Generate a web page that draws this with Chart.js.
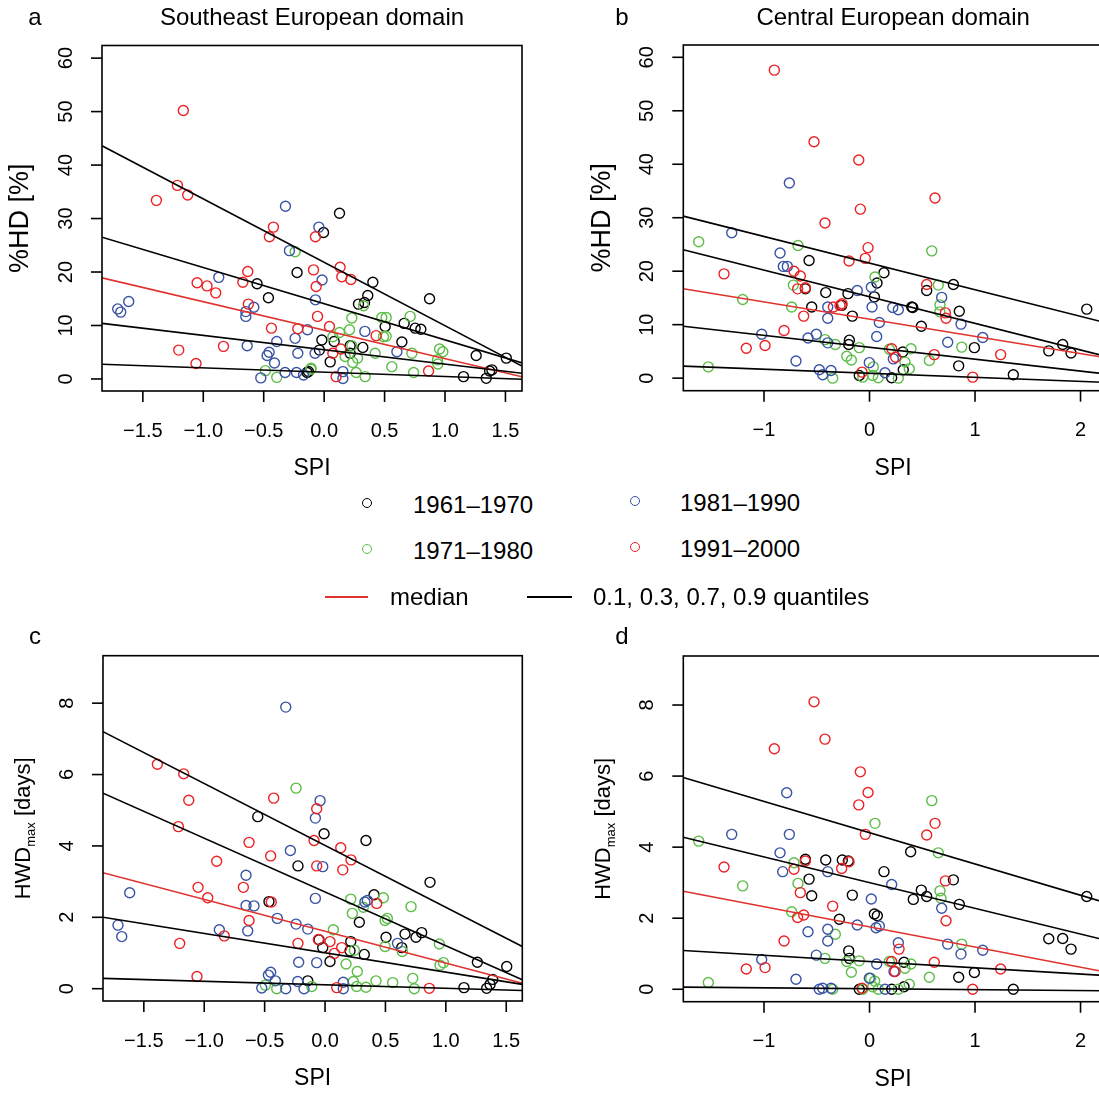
<!DOCTYPE html>
<html>
<head>
<meta charset="utf-8">
<script src="https://cdn.jsdelivr.net/npm/chart.js@4"></script>
<style>
html, body { margin: 0; padding: 0; overflow: hidden; background: #fff; }
body { width: 1099px; height: 1095px; position: relative; font-family: "Liberation Sans", Arial, Helvetica, sans-serif; }
canvas { position: absolute; }
.sym { position: absolute; width: 8px; height: 8px; border: 1.4px solid; border-radius: 50%; }
.lt { position: absolute; font-size: 24px; line-height: 28px; color: #000; white-space: nowrap; }
.ln { position: absolute; height: 1.6px; }
</style>
</head>
<body>
<canvas id="pa" width="560" height="480" style="left:0;top:0"></canvas>
<canvas id="pb" width="560" height="480" style="left:560px;top:0"></canvas>
<canvas id="pc" width="560" height="485" style="left:0;top:610px"></canvas>
<canvas id="pd" width="560" height="485" style="left:560px;top:610px"></canvas>

<!-- legend -->
<div class="sym" style="left:362px;top:498px;border-color:#000"></div>
<div class="lt" style="left:413px;top:491px">1961–1970</div>
<div class="sym" style="left:362px;top:544px;border-color:#5cbd47"></div>
<div class="lt" style="left:413px;top:537px">1971–1980</div>
<div class="sym" style="left:630px;top:496px;border-color:#3953a4"></div>
<div class="lt" style="left:680px;top:489px">1981–1990</div>
<div class="sym" style="left:630px;top:542px;border-color:#ed2024"></div>
<div class="lt" style="left:680px;top:535px">1991–2000</div>
<div class="ln" style="left:325px;top:596px;width:43px;background:#e0322e"></div>
<div class="lt" style="left:390px;top:583px">median</div>
<div class="ln" style="left:527px;top:596px;width:45px;background:#000"></div>
<div class="lt" style="left:593px;top:583px">0.1, 0.3, 0.7, 0.9 quantiles</div>

<script>
// --- panel a: %HD, Southeast European domain  [SPI, %HD] ---
const aBlack = [[-0.224,19.9],[-0.555,17.8],[-0.461,15.2],[-0.141,1.2],[0.127,31.0],[-0.005,27.4],[0.403,18.1],[0.361,15.6],[0.284,14.0],[0.334,14.3],[0.872,15.0],[0.505,9.8],[0.662,10.4],[0.753,9.5],[0.8,9.3],[0.643,6.9],[-0.019,7.3],[0.083,7.0],[0.215,6.2],[0.32,5.9],[-0.039,5.4],[0.05,3.2],[0.215,4.8],[1.258,4.4],[1.507,3.9],[1.388,1.7],[1.369,1.5],[1.153,0.44],[1.341,0.12],[-0.13,1.4]];
const aGreen = [[-0.24,23.8],[-0.486,1.56],[-0.392,0.3],[-0.108,2.0],[0.326,13.7],[0.229,11.4],[0.477,11.5],[0.513,11.5],[0.712,11.7],[0.127,8.7],[0.21,9.2],[0.072,7.9],[0.491,7.9],[0.513,8.0],[0.229,6.2],[0.174,4.2],[0.276,3.9],[0.237,3.1],[0.422,4.8],[0.726,4.8],[0.955,5.6],[0.982,5.1],[0.938,3.6],[0.941,2.8],[0.56,2.3],[0.265,1.2],[0.339,0.44],[0.74,1.2],[-0.11,1.8]];
const aBlue = [[-0.32,32.3],[-0.287,24.0],[-0.872,19.0],[-1.617,14.5],[-1.708,13.1],[-1.683,12.5],[-0.582,13.4],[-0.648,12.6],[-0.648,11.7],[-0.637,6.2],[-0.392,7.0],[-0.24,7.6],[-0.138,9.2],[-0.455,5.0],[-0.472,4.4],[-0.411,3.0],[-0.218,4.8],[-0.075,4.8],[-0.323,1.2],[-0.229,1.2],[-0.171,0.75],[-0.524,0.2],[-0.072,14.8],[-0.044,28.4],[-0.017,18.5],[0.337,8.9],[0.602,5.1],[0.155,1.37],[0.155,0.1]];
const aRed = [[-1.165,50.2],[-1.214,36.2],[-1.129,34.4],[-1.388,33.4],[-0.42,28.4],[-0.453,26.6],[-0.632,20.1],[-0.673,18.1],[-1.051,18.0],[-0.969,17.4],[-0.897,16.1],[-0.627,14.0],[-0.436,9.5],[-0.218,9.4],[-0.833,6.1],[-1.203,5.4],[-1.06,2.9],[-0.088,20.4],[-0.066,17.3],[-0.072,26.6],[-0.055,11.7],[0.132,20.9],[0.146,19.1],[0.221,18.6],[0.044,9.8],[0.43,8.1],[0.072,4.8],[0.138,5.6],[0.099,0.44],[0.864,1.5]];
// quantile lines (0.1, 0.3, 0.7, 0.9) and median: value at left / right edge of the plot
const aQuantLeft = [2.75, 10.4, 26.5, 43.6];
const aQuantRight = [-0.06, 1.07, 3.0, 2.4];
const aMedian = [18.9, 0.4];

// --- panel b: %HD, Central European domain ---
const bBlack = [[-0.573,22.0],[0.137,19.7],[0.071,17.8],[-0.608,16.7],[-0.415,16.0],[-0.204,15.8],[0.046,15.2],[-0.548,13.3],[-0.264,13.6],[-0.163,11.6],[-0.191,7.1],[-0.197,6.3],[-0.097,0.5],[0.795,17.5],[0.542,16.4],[2.059,12.9],[0.4,13.3],[0.41,13.2],[0.851,12.5],[0.491,9.7],[0.994,5.7],[1.831,6.3],[1.699,5.1],[1.91,4.7],[0.315,4.9],[0.32,1.57],[0.845,2.3],[1.363,0.64],[0.21,0.06]];
const bGreen = [[-1.619,25.5],[-0.678,24.8],[0.052,18.9],[-0.722,17.4],[-1.202,14.7],[-0.738,13.3],[-0.422,7.2],[-0.324,6.3],[-0.097,5.7],[-0.216,4.1],[-0.172,3.4],[-1.528,2.1],[-0.349,0.0],[-0.064,0.19],[0.036,2.1],[0.03,0.5],[0.083,0.06],[0.59,23.8],[0.652,17.4],[0.668,13.7],[0.666,12.4],[0.874,5.8],[0.393,5.5],[0.188,5.4],[0.567,3.3],[0.336,3.0],[0.377,1.76],[0.273,0.0]];
const bBlue = [[-0.76,36.5],[-1.306,27.2],[-0.848,23.4],[-0.817,20.9],[-0.779,20.9],[-0.116,16.4],[0.017,17.0],[-0.396,13.3],[0.024,13.3],[-0.396,11.2],[0.093,10.4],[-1.022,8.2],[-0.583,7.5],[-0.504,8.2],[-0.396,6.6],[0.068,7.8],[-0.697,3.2],[-0.002,2.9],[-0.476,1.57],[-0.444,0.64],[-0.365,1.44],[0.147,1.0],[0.684,15.1],[0.22,13.2],[0.273,12.8],[0.867,10.1],[0.741,6.7],[1.073,7.6],[0.226,3.6]];
const bRed = [[-0.902,57.6],[-0.526,44.2],[-0.102,40.8],[-0.087,31.6],[-0.422,29.0],[-0.014,24.4],[-0.04,22.4],[-0.194,21.9],[-1.379,19.5],[-0.716,20.0],[-0.656,19.1],[-0.681,16.7],[-0.608,16.9],[-0.343,13.3],[-0.28,13.6],[-0.26,13.9],[-0.624,11.6],[-0.81,8.9],[-0.99,6.1],[-1.168,5.6],[-0.071,1.12],[0.21,5.5],[0.621,33.7],[0.542,17.5],[0.719,12.2],[0.725,11.2],[0.248,3.9],[0.614,4.4],[1.243,4.4],[0.978,0.19]];
const bQuantLeft = [2.25, 9.7, 24.0, 30.3];
const bQuantRight = [-0.78, 0.85, 4.2, 10.5];
const bMedian = [16.7, 3.9];

// --- panel c: HWDmax, Southeast European domain ---
const cBlack = [[-0.557,4.82],[-0.224,3.44],[-0.464,2.44],[-0.143,0.22],[-0.008,4.34],[0.339,4.15],[0.869,2.98],[0.406,2.63],[0.284,1.86],[0.505,1.44],[0.662,1.53],[0.753,1.44],[0.8,1.57],[0.635,1.15],[-0.05,1.37],[-0.019,1.15],[0.213,1.32],[0.325,0.96],[0.041,0.76],[0.207,1.06],[1.261,0.74],[1.504,0.62],[1.388,0.26],[1.366,0.12],[1.338,0.01],[1.15,0.03]];
const cGreen = [[-0.24,5.62],[-0.494,0.1],[-0.4,0.0],[-0.11,0.06],[0.213,2.51],[0.483,2.55],[0.712,2.3],[0.226,2.11],[0.317,2.28],[0.497,1.91],[0.516,1.97],[0.069,1.65],[0.497,1.18],[0.946,1.25],[0.64,1.04],[0.243,1.08],[0.952,0.66],[0.98,0.73],[0.174,0.69],[0.267,0.48],[0.234,0.2],[0.262,0.06],[0.339,0.04],[0.422,0.22],[0.56,0.17],[0.726,0.29],[0.739,0.0]];
const cBlue = [[-0.325,7.89],[-1.617,2.69],[-1.714,1.78],[-1.683,1.46],[-0.287,3.87],[-0.654,3.18],[-0.654,2.33],[-0.588,2.32],[-0.395,1.97],[-0.24,1.81],[-0.143,1.67],[-0.875,1.65],[-0.64,1.62],[-0.218,0.74],[-0.469,0.38],[-0.45,0.46],[-0.411,0.22],[-0.226,0.2],[-0.524,0.02],[-0.325,0.0],[-0.174,0.0],[-0.041,5.27],[-0.08,4.78],[-0.019,3.42],[-0.08,2.53],[0.33,2.43],[0.35,2.47],[0.6,1.27],[-0.069,0.73],[0.151,0.18],[0.151,0.0]];
const cRed = [[-1.388,6.29],[-1.17,6.02],[-1.128,5.28],[-0.425,5.34],[-1.214,4.54],[-0.629,4.1],[-0.45,3.72],[-0.897,3.57],[-1.051,2.84],[-0.971,2.55],[-0.676,2.84],[-0.445,2.43],[-0.629,1.91],[-0.834,1.48],[-1.203,1.27],[-0.224,1.27],[-1.06,0.34],[-0.069,5.04],[-0.091,4.15],[-0.069,3.44],[0.13,3.95],[0.215,3.61],[0.147,3.33],[0.428,2.39],[-0.055,1.38],[0.041,1.32],[0.138,1.15],[0.077,0.99],[0.097,0.03],[0.863,0.01]];
const cQuantLeft = [0.29, 2.0, 5.48, 7.2];
const cQuantRight = [-0.05, 0.12, 0.25, 1.18];
const cMedian = [3.25, 0.15];

// --- panel d: HWDmax, Central European domain ---
const dBlack = [[-0.608,3.66],[-0.415,3.64],[-0.258,3.64],[-0.201,3.61],[0.137,3.31],[-0.573,3.1],[-0.548,2.63],[-0.163,2.65],[0.046,2.12],[0.074,2.07],[-0.286,1.97],[-0.197,1.08],[-0.191,0.87],[-0.097,0.0],[0.39,3.87],[0.795,3.08],[0.491,2.79],[0.542,2.61],[0.415,2.53],[0.851,2.39],[2.059,2.61],[1.699,1.42],[1.831,1.43],[1.91,1.13],[0.327,0.76],[0.845,0.34],[0.994,0.47],[1.363,0.0],[0.327,0.07],[0.21,0.0]];
const dGreen = [[0.052,4.67],[-1.619,4.17],[-0.716,3.56],[-1.202,2.91],[-0.678,2.98],[-0.738,2.18],[-0.324,1.55],[-0.422,0.87],[-0.216,0.78],[-0.097,0.8],[-0.172,0.48],[-1.528,0.19],[-0.349,0.0],[0.011,0.31],[0.049,0.23],[0.03,0.07],[0.083,0.0],[-0.064,0.0],[0.59,5.31],[0.652,3.84],[0.668,2.77],[0.678,2.56],[0.874,1.27],[0.393,0.71],[0.188,0.78],[0.336,0.59],[0.567,0.34],[0.377,0.14],[0.273,0.0]];
const dBlue = [[-0.785,5.53],[-1.306,4.36],[-0.76,4.36],[-0.848,3.84],[-0.823,3.31],[-0.396,3.31],[0.017,2.54],[-0.116,1.81],[0.062,1.73],[0.093,1.78],[-0.396,1.69],[-0.583,1.62],[-0.396,1.36],[-1.022,0.84],[-0.504,0.96],[0.068,0.71],[-0.697,0.28],[-0.002,0.31],[-0.476,0.0],[-0.444,0.03],[-0.365,0.03],[0.147,0.0],[0.21,2.95],[0.684,2.28],[0.741,1.27],[0.867,0.99],[1.073,1.1],[0.273,1.31],[0.232,0.5]];
const dRed = [[-0.526,8.09],[-0.422,7.04],[-0.902,6.77],[-0.087,6.12],[-0.014,5.54],[-0.102,5.19],[-0.04,4.36],[-1.379,3.44],[-0.608,3.61],[-0.716,3.38],[-0.264,3.4],[-0.194,3.59],[-0.656,2.72],[-0.349,2.34],[-0.681,2.02],[-0.624,2.09],[-0.81,1.36],[-1.168,0.57],[-0.99,0.61],[-0.071,0.03],[0.621,4.67],[0.542,4.34],[0.719,3.05],[0.725,1.93],[0.28,1.13],[0.21,0.78],[0.242,0.5],[0.614,0.76],[1.243,0.57],[0.978,0.0]];
const dQuantLeft = [0.06, 1.09, 4.28, 5.96];
const dQuantRight = [-0.04, 0.39, 1.40, 2.46];
const dMedian = [2.76, 0.50];

// axis ticks
const seSpiTicks = [-1.5, -1.0, -0.5, 0.0, 0.5, 1.0, 1.5];
const ceSpiTicks = [-1, 0, 1, 2];
const hdTicks = [0, 10, 20, 30, 40, 50, 60];
const hwdTicks = [0, 2, 4, 6, 8];

const FONT = '"Liberation Sans", Arial, Helvetica, sans-serif';
const decadeColors = ['#000000', '#5cbd47', '#3953a4', '#ed2024'];
const medianColor = '#e0322e';

function fmtTick(v, dec) {
    return (v < 0 ? '\u2212' : '') + Math.abs(v).toFixed(dec);
}

// R-style box, ticks and labels drawn from the chart's own scales
function rAxes(o) {
    return {
        id: 'rAxes',
        afterDraw(chart) {
            const { ctx, chartArea: ca, scales } = chart;
            const xs = scales.x, ys = scales.y;
            ctx.save();
            ctx.strokeStyle = '#000';
            ctx.fillStyle = '#000';
            ctx.lineWidth = 1.6;
            ctx.strokeRect(ca.left, ca.top, ca.right - ca.left, ca.bottom - ca.top);

            ctx.font = '20px ' + FONT;
            ctx.textAlign = 'center';
            ctx.textBaseline = 'middle';
            o.xTicks.forEach(v => {
                const px = xs.getPixelForValue(v);
                ctx.beginPath(); ctx.moveTo(px, ca.bottom); ctx.lineTo(px, ca.bottom + 11); ctx.stroke();
                ctx.fillText(fmtTick(v, o.xDec), px, ca.bottom + 40);
            });
            o.yTicks.forEach(v => {
                const py = ys.getPixelForValue(v);
                ctx.beginPath(); ctx.moveTo(ca.left, py); ctx.lineTo(ca.left - 11, py); ctx.stroke();
                ctx.save();
                ctx.translate(ca.left - 36, py);
                ctx.rotate(-Math.PI / 2);
                ctx.fillText(String(v), 0, 0);
                ctx.restore();
            });

            ctx.font = '23px ' + FONT;
            ctx.fillText('SPI', (ca.left + ca.right) / 2, ca.bottom + 78);

            // y axis title, rotated
            const cy = (ca.top + ca.bottom) / 2;
            ctx.save();
            ctx.translate(ca.left - 81, cy);
            ctx.rotate(-Math.PI / 2);
            if (o.yTitle === 'hwd') {
                ctx.textAlign = 'left';
                ctx.textBaseline = 'alphabetic';
                const big = '22px ' + FONT, small = '13px ' + FONT;
                ctx.font = big; const w1 = ctx.measureText('HWD').width;
                ctx.font = small; const w2 = ctx.measureText('max').width;
                ctx.font = big; const w3 = ctx.measureText(' [days]').width;
                let x0 = -(w1 + w2 + w3) / 2;
                ctx.font = big; ctx.fillText('HWD', x0, 8);
                ctx.font = small; ctx.fillText('max', x0 + w1, 13);
                ctx.font = big; ctx.fillText(' [days]', x0 + w1 + w2, 8);
            } else {
                ctx.font = '27px ' + FONT;
                ctx.fillText(o.yTitle, 0, 0);
            }
            ctx.restore();

            ctx.font = '24px ' + FONT;
            if (o.title) ctx.fillText(o.title, (ca.left + ca.right) / 2, o.titleY);
            ctx.fillText(o.letter[0], o.letter[1], o.letter[2]);
            ctx.restore();
        }
    };
}

function makePanel(id, groups, qLeft, qRight, med, o) {
    const datasets = [];
    qLeft.forEach((l, i) => {
        datasets.push({
            type: 'line',
            data: [{ x: o.xMin, y: l }, { x: o.xMax, y: qRight[i] }],
            borderColor: '#000', borderWidth: 1.6, pointRadius: 0, fill: false, order: 0
        });
    });
    datasets.push({
        type: 'line',
        data: [{ x: o.xMin, y: med[0] }, { x: o.xMax, y: med[1] }],
        borderColor: medianColor, borderWidth: 1.6, pointRadius: 0, fill: false, order: 0
    });
    groups.forEach((pts, k) => {
        datasets.push({
            type: 'scatter',
            data: pts.map(p => ({ x: p[0], y: p[1] })),
            borderColor: decadeColors[k],
            backgroundColor: 'rgba(0,0,0,0)',
            pointRadius: 5,
            pointBorderWidth: 1.4,
            order: 5 - k
        });
    });
    new Chart(document.getElementById(id), {
        type: 'scatter',
        data: { datasets },
        options: {
            responsive: false,
            animation: false,
            layout: { padding: o.pad },
            plugins: { legend: { display: false }, tooltip: { enabled: false } },
            scales: {
                x: { type: 'linear', min: o.xMin, max: o.xMax, display: false },
                y: { type: 'linear', min: o.yMin, max: o.yMax, display: false }
            }
        },
        plugins: [rAxes(o)]
    });
}

makePanel('pa', [aBlack, aGreen, aBlue, aRed], aQuantLeft, aQuantRight, aMedian, {
    xMin: -1.838, xMax: 1.637, yMin: -2.25, yMax: 62.36,
    pad: { left: 102, top: 45.5, right: 38, bottom: 89 },
    xTicks: seSpiTicks, xDec: 1, yTicks: hdTicks, yTitle: '%HD [%]',
    title: 'Southeast European domain', titleY: 18, letter: ['a', 35, 18]
});
makePanel('pb', [bBlack, bGreen, bBlue, bRed], bQuantLeft, bQuantRight, bMedian, {
    xMin: -1.765, xMax: 2.213, yMin: -2.35, yMax: 62.3,
    pad: { left: 123.3, top: 45, right: 17, bottom: 89.3 },
    xTicks: ceSpiTicks, xDec: 0, yTicks: hdTicks, yTitle: '%HD [%]',
    title: 'Central European domain', titleY: 18, letter: ['b', 62, 18]
});
makePanel('pc', [cBlack, cGreen, cBlue, cRed], cQuantLeft, cQuantRight, cMedian, {
    xMin: -1.838, xMax: 1.633, yMin: -0.345, yMax: 9.33,
    pad: { left: 103, top: 45.7, right: 37.7, bottom: 94 },
    xTicks: seSpiTicks, xDec: 1, yTicks: hwdTicks, yTitle: 'hwd',
    title: '', titleY: 0, letter: ['c', 35, 27]
});
makePanel('pd', [dBlack, dGreen, dBlue, dRed], dQuantLeft, dQuantRight, dMedian, {
    xMin: -1.765, xMax: 2.213, yMin: -0.35, yMax: 9.38,
    pad: { left: 123.3, top: 46, right: 17, bottom: 93.3 },
    xTicks: ceSpiTicks, xDec: 0, yTicks: hwdTicks, yTitle: 'hwd',
    title: '', titleY: 0, letter: ['d', 62, 27]
});
</script>
</body>
</html>
